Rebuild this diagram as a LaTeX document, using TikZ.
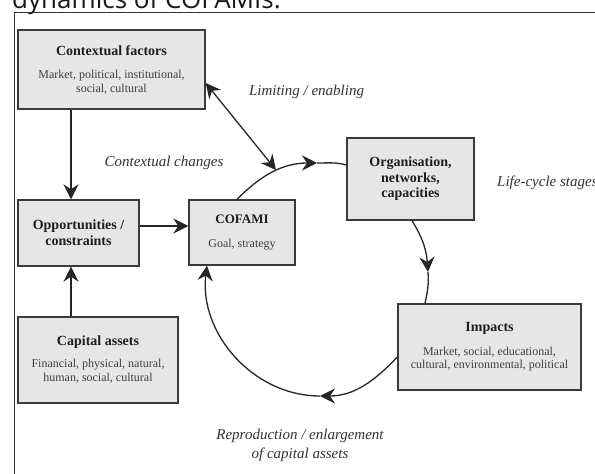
\documentclass[tikz,border=0pt]{standalone}
\usepackage{fontspec}
\setmainfont{Liberation Serif}
\newfontfamily\headfont{Open Sans}
\usetikzlibrary{arrows.meta,calc}
\definecolor{boxfill}{HTML}{E6E6E6}
\definecolor{boxline}{HTML}{3A3A3A}
\definecolor{txtc}{HTML}{1E1E1E}
\definecolor{subtxt}{HTML}{404040}
\definecolor{lblc}{HTML}{333333}
\newcommand\boxtitle{\fontsize{14}{16}\selectfont\bfseries\color{txtc}}
\newcommand\boxsub{\fontsize{12}{14}\selectfont\color{subtxt}}
\begin{document}
\begin{tikzpicture}[x=1pt,y=1pt,
  box/.style={draw=boxline, fill=boxfill, line width=1.4pt, align=center, inner sep=0pt, font=\fontsize{12}{14}\selectfont},
  arr/.style={draw=black!85, line width=1.3pt, -{Stealth[length=15pt,width=15pt,inset=5pt]}},
  dbl/.style={draw=black!85, line width=1.3pt, {Stealth[length=15pt,width=15pt,inset=5pt]}-{Stealth[length=15pt,width=15pt,inset=5pt]}},
  cyc/.style={draw=black!85, line width=1.3pt},
  lab/.style={font=\fontsize{15}{18}\selectfont\itshape, text=lblc, inner sep=0pt}]
\useasboundingbox (0,0) rectangle (595,474);
\clip (0,0) rectangle (595,474);
\fill[white] (0,0) rectangle (595,474);
% cut heading
\node[anchor=base west, inner sep=0pt, font=\headfont\fontsize{26}{30}\selectfont, text=black!90] (head) at (12,465) {dynamics of COFAMIs.};
% outer frame
\draw[black!80, line width=1pt] (14,-5) -- (14,461) -- (600,461);
% boxes
\node[box, minimum width=187pt, minimum height=79pt] (ctx) at (111.5,404.5)
  {{\boxtitle Contextual factors}\\[9pt]{\boxsub Market, political, institutional,}\\{\boxsub social, cultural}};
\node[box, minimum width=121pt, minimum height=66pt] (opp) at (78.5,241)
  {{\boxtitle Opportunities /}\\[2pt]{\boxtitle constraints}};
\node[box, minimum width=106pt, minimum height=65pt] (cof) at (242,241.5)
  {{\boxtitle\fontsize{13}{14}\selectfont COFAMI}\\[10pt]{\boxsub Goal, strategy}};
\node[box, minimum width=160pt, minimum height=86pt] (cap) at (98,114)
  {{\boxtitle Capital assets}\\[8pt]{\boxsub Financial, physical, natural,}\\{\boxsub human, social, cultural}};
\node[box, minimum width=127pt, minimum height=82pt] (org) at (410.5,295)
  {{\boxtitle Organisation,}\\[1.5pt]{\boxtitle networks,}\\[1.5pt]{\boxtitle capacities}};
\node[box, minimum width=183pt, minimum height=86pt] (imp) at (489.5,127)
  {{\boxtitle Impacts}\\[10pt]{\boxsub Market, social, educational,}\\[-1pt]{\boxsub cultural, environmental, political}};
% straight connectors
\coordinate (oa) at ([xshift=-7.5pt]opp.north);
\coordinate (ob) at ([xshift=-7.5pt]opp.south);
\coordinate (oc) at ([yshift=7pt]opp.east);
\draw[arr] (oa |- ctx.south) -- (oa);
\draw[arr] (ob |- cap.north) -- (ob);
\draw[arr] (oc) -- (oc -| cof.west);
% life cycle
\coordinate (m1) at (317,311);
\coordinate (m2) at (428,202);
\coordinate (m3) at (320,78);
\coordinate (lim) at (276,304);
\draw[arr] ([xshift=-5pt]cof.north) to[out=45,in=180] (m1);
\draw[cyc] (m1) to[out=0,in=165] ([yshift=14pt]org.west);
\draw[arr] ([xshift=1.5pt]org.south) to[out=-58,in=94] (m2);
\draw[cyc] (m2) to[out=-86,in=77.5] ([xshift=-64.5pt]imp.north);
\draw[arr] ([yshift=-10pt]imp.west) to[out=-133.5,in=0] (m3);
\draw[arr] (m3) to[out=180,in=-97] ([xshift=-35pt]cof.south);
\draw[dbl] ([yshift=-13.5pt]ctx.east) -- (lim);
% labels
\node[lab] (l1) at (306.5,382) {Limiting / enabling};
\node[lab] (l2) at (164,311) {Contextual changes};
\node[lab, anchor=base west] (l3) at (497,287) {Life-cycle stages};
\node[lab, align=center] (l4) at (300,28.5) {Reproduction / enlargement\\[1pt]of capital assets};
\end{tikzpicture}
\end{document}
